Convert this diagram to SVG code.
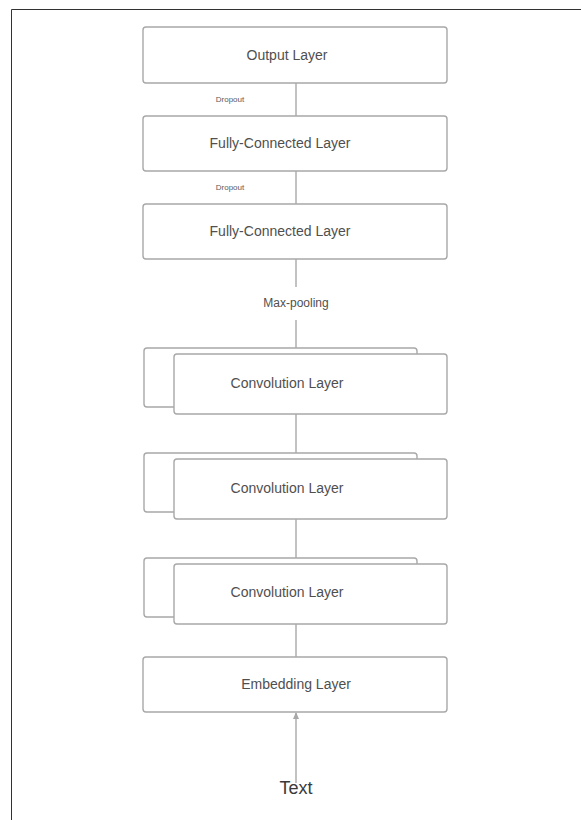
<svg xmlns="http://www.w3.org/2000/svg" width="581" height="820" viewBox="0 0 581 820">
  <style>
    .box { fill: #ffffff; stroke: #a8a8a8; stroke-width: 1.4; }
    .lbl { font-family: "Liberation Sans", Arial, sans-serif; font-size: 14px; fill: #4f4f4f; text-anchor: middle; }
    .small { font-family: "Liberation Sans", Arial, sans-serif; font-size: 8px; fill: #5a5a5a; text-anchor: middle; }
    .mid { font-family: "Liberation Sans", Arial, sans-serif; font-size: 12px; fill: #4f4f4f; text-anchor: middle; }
    .big { font-family: "Liberation Sans", Arial, sans-serif; font-size: 18px; fill: #3a3a3a; text-anchor: middle; }
    .wire { stroke: #a8a8a8; stroke-width: 1.4; fill: none; }
  </style>
  <defs>
    <marker id="arrow" markerWidth="8" markerHeight="8" refX="4" refY="1" orient="0" markerUnits="userSpaceOnUse">
      <path d="M4,0 L7,7 L1,7 Z" fill="#a8a8a8"/>
    </marker>
  </defs>
  <rect width="581" height="820" fill="#ffffff"/>
  <!-- page frame -->
  <path d="M11.5,820 L11.5,9.5 L581,9.5" fill="none" stroke="#333333" stroke-width="1"/>

  <!-- connectors -->
  <g id="connectors">
    <line class="wire" x1="296" y1="83" x2="296" y2="116"/>
    <line class="wire" x1="296" y1="171" x2="296" y2="204"/>
    <line class="wire" x1="296" y1="259" x2="296" y2="287"/>
    <line class="wire" x1="296" y1="320" x2="296" y2="348"/>
    <line class="wire" x1="296" y1="414" x2="296" y2="453"/>
    <line class="wire" x1="296" y1="519" x2="296" y2="558"/>
    <line class="wire" x1="296" y1="624" x2="296" y2="657"/>
    <line class="wire" x1="296" y1="783" x2="296" y2="713" marker-end="url(#arrow)"/>
    <text class="small" x="230" y="102">Dropout</text>
    <text class="small" x="230" y="190">Dropout</text>
    <text class="mid" x="296" y="307">Max-pooling</text>
  </g>

  <g id="output-layer">
    <rect class="box" x="143" y="27" width="304" height="56" rx="3"/>
    <text class="lbl" x="287" y="60">Output Layer</text>
  </g>
  <g id="fc-layer-1">
    <rect class="box" x="143" y="116" width="304" height="55" rx="3"/>
    <text class="lbl" x="280" y="148">Fully-Connected Layer</text>
  </g>
  <g id="fc-layer-2">
    <rect class="box" x="143" y="204" width="304" height="55" rx="3"/>
    <text class="lbl" x="280" y="236">Fully-Connected Layer</text>
  </g>
  <g id="conv-layer-1">
    <rect class="box" x="144" y="348" width="273" height="59" rx="3"/>
    <rect class="box" x="174" y="354" width="273" height="60" rx="3"/>
    <text class="lbl" x="287" y="388">Convolution Layer</text>
  </g>
  <g id="conv-layer-2">
    <rect class="box" x="144" y="453" width="273" height="59" rx="3"/>
    <rect class="box" x="174" y="459" width="273" height="60" rx="3"/>
    <text class="lbl" x="287" y="493">Convolution Layer</text>
  </g>
  <g id="conv-layer-3">
    <rect class="box" x="144" y="558" width="273" height="59" rx="3"/>
    <rect class="box" x="174" y="564" width="273" height="60" rx="3"/>
    <text class="lbl" x="287" y="597">Convolution Layer</text>
  </g>
  <g id="embedding-layer">
    <rect class="box" x="143" y="657" width="304" height="55" rx="3"/>
    <text class="lbl" x="296" y="689">Embedding Layer</text>
  </g>
  <g id="text-input">
    <text class="big" x="296" y="794">Text</text>
  </g>
</svg>
